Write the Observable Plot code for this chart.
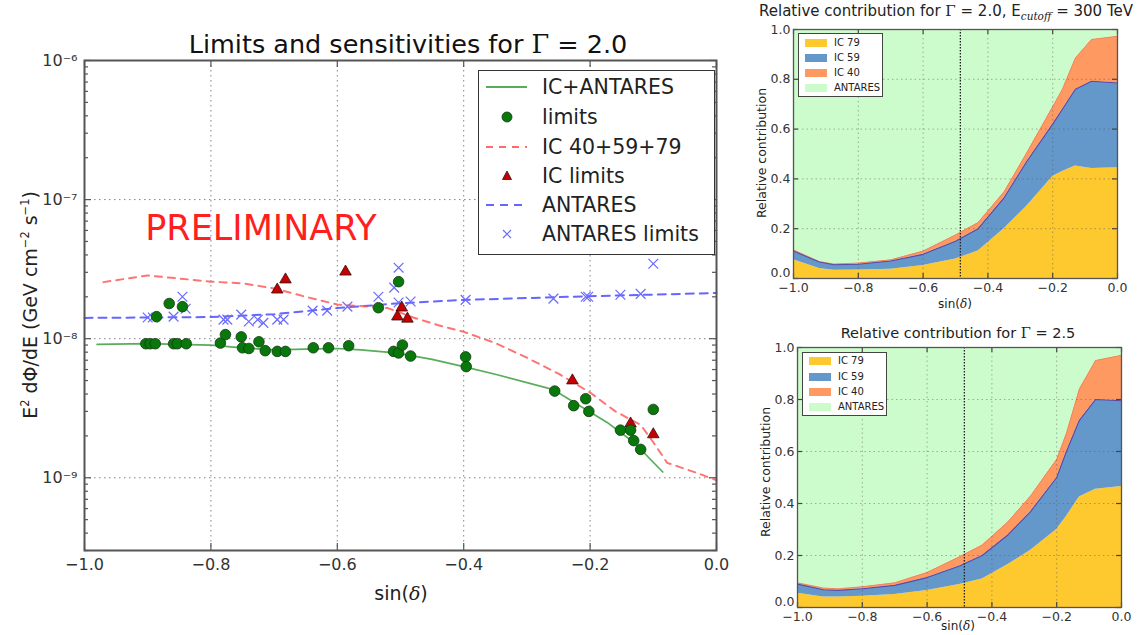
<!DOCTYPE html>
<html><head><meta charset="utf-8">
<script src="https://cdn.jsdelivr.net/npm/d3@7"></script>
<script src="https://cdn.jsdelivr.net/npm/@observablehq/plot@0.6"></script>
<style>
body{margin:0;background:#fff;font-family:"DejaVu Sans",sans-serif;}
#wrap{position:relative;width:1147px;height:635px;overflow:hidden;background:#fff;}
.abs{position:absolute;white-space:nowrap;line-height:1;color:#222;}
.svgbox{position:absolute;}
.svgbox svg{overflow:visible;}
.serif{font-family:"DejaVu Serif",serif;}
</style></head><body><div id="wrap"></div>
<script>
// ---------- Left chart data ----------
const xTickVals = [-1, -0.8, -0.6, -0.4, -0.2, 0];
const yMajorVals = [1e-9, 1e-8, 1e-7, 1e-6];

const comboX = [-0.98, -0.9, -0.8, -0.75, -0.7, -0.65, -0.6, -0.563, -0.508, -0.45, -0.4, -0.347, -0.258, -0.173, -0.131, -0.085];
const comboY = [9.1e-9, 9.2e-9, 9.0e-9, 8.6e-9, 8.3e-9, 8.4e-9, 8.5e-9, 8.3e-9, 7.9e-9, 7.1e-9, 6.3e-9, 5.5e-9, 4.3e-9, 2.5e-9, 1.8e-9, 1.1e-9];

const icX = [-0.97, -0.9, -0.8, -0.75, -0.7, -0.65, -0.6, -0.55, -0.52, -0.48, -0.44, -0.4, -0.35, -0.3, -0.25, -0.2, -0.16, -0.12, -0.1, -0.078, -0.03, 0];
const icY = [2.55e-8, 2.85e-8, 2.57e-8, 2.5e-8, 2.3e-8, 2.0e-8, 1.76e-8, 1.7e-8, 1.66e-8, 1.42e-8, 1.25e-8, 1.12e-8, 9.3e-9, 7.3e-9, 5.6e-9, 4.1e-9, 3.0e-9, 2.4e-9, 1.8e-9, 1.28e-9, 1.08e-9, 9.6e-10];

const antX = [-1, -0.8, -0.7, -0.6, -0.5, -0.4, -0.2, 0];
const antY = [1.41e-8, 1.43e-8, 1.5e-8, 1.66e-8, 1.8e-8, 1.9e-8, 2.02e-8, 2.13e-8];

const limX = [-0.903,-0.896,-0.888,-0.886,-0.866,-0.845,-0.859,-0.853,-0.839,-0.785,-0.777,-0.752,-0.75,-0.74,-0.724,-0.714,-0.695,-0.682,-0.638,-0.614,-0.582,-0.535,-0.511,-0.503,-0.497,-0.484,-0.503,-0.397,-0.396,-0.256,-0.226,-0.207,-0.202,-0.152,-0.136,-0.131,-0.120,-0.100];
const limY = [9.2e-9,9.2e-9,9.2e-9,1.44e-8,1.79e-8,1.70e-8,9.2e-9,9.2e-9,9.2e-9,9.3e-9,1.07e-8,1.03e-8,8.6e-9,8.5e-9,9.5e-9,8.2e-9,8.1e-9,8.1e-9,8.6e-9,8.6e-9,8.9e-9,1.67e-8,8.1e-9,7.9e-9,9.0e-9,7.5e-9,2.57e-8,7.4e-9,6.3e-9,4.2e-9,3.3e-9,3.7e-9,3.0e-9,2.2e-9,2.2e-9,1.85e-9,1.6e-9,3.1e-9];

const icLimX = [-0.695,-0.682,-0.587,-0.498,-0.505,-0.489,-0.228,-0.136,-0.100];
const icLimY = [2.25e-8,2.66e-8,3.03e-8,1.67e-8,1.44e-8,1.39e-8,5.0e-9,2.45e-9,2.05e-9];

const antLimX = [-0.900,-0.892,-0.859,-0.845,-0.840,-0.780,-0.774,-0.752,-0.740,-0.726,-0.717,-0.695,-0.685,-0.639,-0.616,-0.584,-0.535,-0.503,-0.510,-0.503,-0.484,-0.397,-0.258,-0.207,-0.203,-0.152,-0.120,-0.100];
const antLimY = [1.42e-8,1.42e-8,1.44e-8,2.0e-8,1.64e-8,1.37e-8,1.37e-8,1.49e-8,1.33e-8,1.37e-8,1.30e-8,1.37e-8,1.37e-8,1.59e-8,1.59e-8,1.70e-8,2.0e-8,3.24e-8,2.33e-8,1.82e-8,1.85e-8,1.9e-8,1.94e-8,2.0e-8,2.0e-8,2.07e-8,2.1e-8,3.46e-8];

// ---------- Right charts data ----------
const relX = [-1, -0.92, -0.875, -0.8, -0.7, -0.6, -0.5, -0.43, -0.35, -0.28, -0.2, -0.17, -0.13, -0.08, 0];
const seriesNames = ["IC 79", "IC 59", "IC 40", "ANTARES"];
const seriesColors = ["#fdc92f", "#6598ca", "#fd9961", "#ccfccc"];
const relTicks = [0, 0.2, 0.4, 0.6, 0.8, 1.0];
const refLineX = [-0.485];

// Gamma = 2.0, Ecutoff = 300 TeV
const g20_ic79 = [0.075, 0.04, 0.033, 0.034, 0.037, 0.052, 0.078, 0.11, 0.2, 0.29, 0.41, 0.43, 0.452, 0.442, 0.445];
const g20_ic59 = [0.035, 0.026, 0.022, 0.023, 0.033, 0.045, 0.072, 0.09, 0.124, 0.18, 0.21, 0.25, 0.308, 0.35, 0.34];
const g20_ic40 = [0.005, 0.002, 0.003, 0.005, 0.005, 0.013, 0.025, 0.025, 0.024, 0.035, 0.07, 0.08, 0.125, 0.168, 0.188];
const g20_ant  = [0.885, 0.932, 0.942, 0.938, 0.925, 0.89, 0.825, 0.775, 0.652, 0.495, 0.31, 0.24, 0.115, 0.04, 0.027];

// Gamma = 2.5
const g25_ic79 = [0.055, 0.04, 0.04, 0.043, 0.05, 0.065, 0.088, 0.11, 0.165, 0.22, 0.3, 0.35, 0.425, 0.455, 0.465];
const g25_ic59 = [0.035, 0.028, 0.026, 0.029, 0.035, 0.05, 0.072, 0.09, 0.115, 0.15, 0.2, 0.25, 0.295, 0.345, 0.33];
const g25_ic40 = [0.005, 0.007, 0.006, 0.008, 0.01, 0.02, 0.035, 0.04, 0.05, 0.06, 0.07, 0.07, 0.12, 0.15, 0.175];
const g25_ant  = [0.905, 0.925, 0.928, 0.92, 0.905, 0.865, 0.805, 0.76, 0.67, 0.57, 0.43, 0.33, 0.16, 0.05, 0.03];

// ---------- helpers ----------
const wrap = document.getElementById("wrap");
const pts = (xs, ys) => xs.map((x, i) => ({x, y: ys[i]}));
const supMap = {"-": "\u207B", "0":"\u2070","1":"\u00B9","2":"\u00B2","3":"\u00B3","4":"\u2074","5":"\u2075","6":"\u2076","7":"\u2077","8":"\u2078","9":"\u2079"};
const powFmt = d => "10" + String(Math.round(Math.log10(d))).split("").map(c => supMap[c]).join("");
const f1 = d3.format(".1f");
function place(el, x, y) { const b = document.createElement("div"); b.className = "svgbox"; b.style.left = x + "px"; b.style.top = y + "px"; b.appendChild(el); wrap.appendChild(b); }
function txt(html, x, y, css, rot) {
  const d = document.createElement("div"); d.className = "abs"; d.innerHTML = html;
  d.style.left = x + "px"; d.style.top = y + "px";
  d.style.transform = "translate(-50%,-50%)" + (rot ? " rotate(" + rot + "deg)" : "");
  Object.assign(d.style, css || {}); wrap.appendChild(d); return d;
}
// inward tick marks on the frame (matplotlib style)
function inTicksX(vals, ph, len, sides, stroke) {
  return sides.map(s => Plot.tickX(vals, {x: d => d, stroke, strokeWidth: 1.2, [s === "bottom" ? "insetTop" : "insetBottom"]: ph - len}));
}
function inTicksY(vals, pw, len, sides, stroke) {
  return sides.map(s => Plot.tickY(vals, {y: d => d, stroke, strokeWidth: 1.2, [s === "left" ? "insetRight" : "insetLeft"]: pw - len}));
}

const minorVals = [];
for (const e of [-10, -9, -8, -7]) for (let m = 2; m <= 9; m++) { const v = m * Math.pow(10, e); if (v >= 3e-10 && v < 1e-6) minorVals.push(v); }

// ---------- Left chart ----------
const LW = 740, LH = 610, LML = 84, LMR = 24, LMT = 60, LMB = 60;
const LPW = LW - LML - LMR, LPH = LH - LMT - LMB;
const left = Plot.plot({
  width: LW, height: LH, marginLeft: LML, marginRight: LMR, marginTop: LMT, marginBottom: LMB,
  style: {fontFamily: "DejaVu Sans", color: "#333", background: "transparent"},
  x: {domain: [-1, 0], label: null},
  y: {type: "log", domain: [3e-10, 1e-6], label: null},
  marks: [
    Plot.gridX([-0.8, -0.6, -0.4, -0.2], {stroke: "#777", strokeOpacity: 0.9, strokeDasharray: "1.5,3.5"}),
    Plot.gridY([1e-9, 1e-8, 1e-7], {stroke: "#777", strokeOpacity: 0.9, strokeDasharray: "1.5,3.5"}),
    ...inTicksX(xTickVals, LPH, 7, ["bottom", "top"], "#555"),
    ...inTicksY(yMajorVals, LPW, 7, ["left", "right"], "#555"),
    ...inTicksY(minorVals, LPW, 4, ["left", "right"], "#555"),
    Plot.line(pts(antX, antY), {x: "x", y: "y", stroke: "#4a4aff", strokeOpacity: 0.85, strokeWidth: 2, strokeDasharray: "8,6"}),
    Plot.line(pts(icX, icY), {x: "x", y: "y", stroke: "#ff5050", strokeOpacity: 0.8, strokeWidth: 2, strokeDasharray: "7,6"}),
    Plot.line(pts(comboX, comboY), {x: "x", y: "y", stroke: "#3c9e3c", strokeOpacity: 0.85, strokeWidth: 1.7}),
    Plot.dot(pts(antLimX, antLimY), {x: "x", y: "y", symbol: "times", r: 4.5, stroke: "#6a6aff", strokeWidth: 1.2}),
    Plot.dot(pts(icLimX, icLimY), {x: "x", y: "y", symbol: "triangle", r: 4.3, fill: "#c40000", stroke: "#331111", strokeWidth: 0.8}),
    Plot.dot(pts(limX, limY), {x: "x", y: "y", r: 5.3, fill: "#08780a", stroke: "#143814", strokeWidth: 0.8}),
    Plot.frame({stroke: "#555", strokeWidth: 2}),
    Plot.axisX(xTickVals, {anchor: "bottom", tickSize: 0, tickPadding: 8, fontSize: 16, tickFormat: f1, label: null}),
    Plot.axisY(yMajorVals, {anchor: "left", tickSize: 0, tickPadding: 7, fontSize: 16, tickFormat: powFmt, label: null})
  ]
});
place(left, 0, 0);

// ---------- Right charts ----------
function relPlot(ic79, ic59, ic40, ant, dims) {
  const pw = dims.width - dims.marginLeft - dims.marginRight;
  const ph = dims.height - dims.marginTop - dims.marginBottom;
  const long = [];
  relX.forEach((x, i) => {
    long.push({x, v: ic79[i], s: "IC 79"});
    long.push({x, v: ic59[i], s: "IC 59"});
    long.push({x, v: ic40[i], s: "IC 40"});
    long.push({x, v: ant[i], s: "ANTARES"});
  });
  const top59 = relX.map((x, i) => ({x, y: ic79[i] + ic59[i]}));
  const top40 = relX.map((x, i) => ({x, y: ic79[i] + ic59[i] + ic40[i]}));
  return Plot.plot({
    ...dims,
    style: {fontFamily: "DejaVu Sans", color: "#333", background: "transparent"},
    x: {domain: [-1, 0], label: null},
    y: {domain: [0, 1], label: null},
    color: {domain: seriesNames, range: seriesColors},
    marks: [
      Plot.areaY(long, {x: "x", y: "v", fill: "s", z: "s", order: seriesNames}),
      Plot.line(top40, {x: "x", y: "y", stroke: "#e9845a", strokeWidth: 0.8}),
      Plot.line(top59, {x: "x", y: "y", stroke: "#5b4aa8", strokeWidth: 1.1}),
      Plot.gridX([-0.8, -0.6, -0.4, -0.2], {stroke: "#555", strokeOpacity: 0.45, strokeDasharray: "1.5,3"}),
      Plot.gridY([0.2, 0.4, 0.6, 0.8], {stroke: "#555", strokeOpacity: 0.45, strokeDasharray: "1.5,3"}),
      Plot.ruleX(refLineX, {stroke: "#222", strokeWidth: 1.3, strokeDasharray: "1.5,1.5"}),
      ...inTicksX(xTickVals, ph, 5, ["bottom", "top"], "#444"),
      ...inTicksY(relTicks, pw, 5, ["left", "right"], "#444"),
      Plot.frame({stroke: "#555", strokeWidth: 1.3}),
      Plot.axisX(xTickVals, {anchor: "bottom", tickSize: 0, tickPadding: 5, fontSize: 12.5, tickFormat: f1, label: null}),
      Plot.axisY(relTicks.slice(1), {anchor: "left", tickSize: 0, tickPadding: 3, fontSize: 12.5, tickFormat: f1, label: null}),
      Plot.axisY(relTicks.slice(0, 1), {anchor: "left", tickSize: 0, tickPadding: 3, fontSize: 12.5, dy: -6, tickFormat: f1, label: null})
    ]
  });
}
place(relPlot(g20_ic79, g20_ic59, g20_ic40, g20_ant, {width: 397, height: 310, marginLeft: 43, marginRight: 30, marginTop: 29, marginBottom: 32}), 750, 0);
place(relPlot(g25_ic79, g25_ic59, g25_ic40, g25_ant, {width: 397, height: 325, marginLeft: 47, marginRight: 26, marginTop: 37, marginBottom: 28}), 750, 310);

// ---------- Text overlays ----------
txt('Limits and sensitivities for <span class="serif">\u0393</span> = 2.0', 408, 45, {fontSize: "25.5px", color: "#111"});
txt('E<sup style="font-size:0.6em">2</sup> d\u03A6/dE (GeV cm<sup style="font-size:0.6em">\u22122</sup> s<sup style="font-size:0.6em">\u22121</sup>)', 30, 305, {fontSize: "19px", color: "#222"}, -90);
txt('sin(<i class="serif">\u03B4</i>)', 401, 593, {fontSize: "19px", color: "#222"});
txt('PRELIMINARY', 261, 228, {fontSize: "35px", color: "#ff1f1f"});

txt('Relative contribution for <span class="serif">\u0393</span> = 2.0, E<sub style="font-size:0.7em"><i class="serif">cutoff</i></sub> = 300 TeV', 946, 13, {fontSize: "15px", color: "#222"});
txt('sin(<i class="serif">\u03B4</i>)', 955, 304, {fontSize: "12px"});
txt('Relative contribution', 762, 153, {fontSize: "12.5px"}, -90);
txt('Relative contribution for <span class="serif">\u0393</span> = 2.5', 958, 333, {fontSize: "14.5px", color: "#222"});
txt('sin(<i class="serif">\u03B4</i>)', 958, 626, {fontSize: "12px"});
txt('Relative contribution', 766, 472, {fontSize: "12.5px"}, -90);

// ---------- Left legend ----------
(function () {
  const box = document.createElement("div");
  Object.assign(box.style, {position: "absolute", left: "478px", top: "70px", width: "237px", height: "185px", border: "1.5px solid #333", background: "#fff", boxSizing: "border-box"});
  const rows = [
    {label: "IC+ANTARES", kind: "line", stroke: "#3c9e3c", dash: null},
    {label: "limits", kind: "circle"},
    {label: "IC 40+59+79", kind: "line", stroke: "#ff5050", dash: "7,6"},
    {label: "IC limits", kind: "tri"},
    {label: "ANTARES", kind: "line", stroke: "#4a4aff", dash: "8,6"},
    {label: "ANTARES limits", kind: "x"}
  ];
  const ys = [16, 46, 76, 105, 134, 163];
  let svg = '<svg width="237" height="185" style="position:absolute;left:0;top:0">';
  rows.forEach((r, i) => {
    const y = ys[i];
    if (r.kind === "line") svg += `<line x1="7" x2="48" y1="${y}" y2="${y}" stroke="${r.stroke}" stroke-width="2" stroke-opacity="0.85" ${r.dash ? `stroke-dasharray="${r.dash}"` : ""}/>`;
    if (r.kind === "circle") svg += `<circle cx="28" cy="${y}" r="5" fill="#08780a" stroke="#143814" stroke-width="0.8"/>`;
    if (r.kind === "tri") svg += `<path d="M28,${y-5}L32.5,${y+3.5}L23.5,${y+3.5}Z" fill="#c40000" stroke="#331111" stroke-width="0.8"/>`;
    if (r.kind === "x") svg += `<path d="M24,${y-4}L32,${y+4}M24,${y+4}L32,${y-4}" stroke="#6a6aff" stroke-width="1.2"/>`;
  });
  svg += '</svg>';
  box.innerHTML = svg;
  rows.forEach((r, i) => {
    const t = document.createElement("div"); t.className = "abs"; t.textContent = r.label;
    Object.assign(t.style, {left: "63px", top: (ys[i] - 10.5) + "px", fontSize: "20.5px", color: "#222"});
    box.appendChild(t);
  });
  wrap.appendChild(box);
})();

// ---------- Right legends ----------
function relLegend(x, y, w, h, rowYs) {
  const box = document.createElement("div");
  Object.assign(box.style, {position: "absolute", left: x + "px", top: y + "px", width: w + "px", height: h + "px", border: "1.3px solid #444", background: "#fff", boxSizing: "border-box"});
  seriesNames.forEach((s, i) => {
    const sw = document.createElement("div");
    Object.assign(sw.style, {position: "absolute", left: "6px", top: (rowYs[i] - 4) + "px", width: "22px", height: "8px", background: seriesColors[i]});
    box.appendChild(sw);
    const t = document.createElement("div"); t.className = "abs"; t.textContent = s;
    Object.assign(t.style, {left: "35px", top: (rowYs[i] - 5) + "px", fontSize: "10px", color: "#222"});
    box.appendChild(t);
  });
  wrap.appendChild(box);
}
relLegend(798, 33, 85, 64, [9, 24, 39, 54]);
relLegend(802, 352, 85, 64, [8, 24, 39, 54]);
</script></body></html>
